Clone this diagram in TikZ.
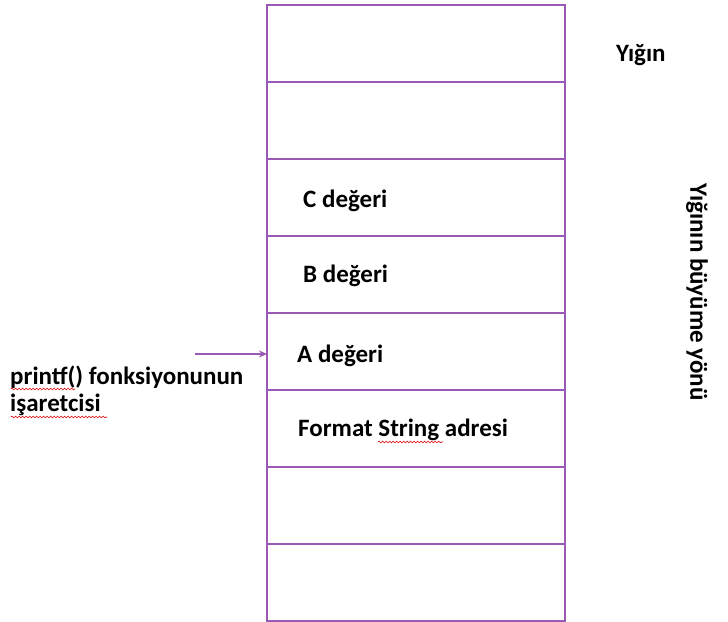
\documentclass[tikz,border=0pt]{standalone}
\usepackage{fontspec}
\setmainfont{Carlito}
\usetikzlibrary{arrows.meta,decorations.pathmorphing}
\definecolor{yigin}{RGB}{155,89,182}
\tikzset{
  hucre/.style={draw=yigin,line width=1.2pt,minimum width=298pt,minimum height=77pt,inner sep=0pt,outer sep=0pt},
  etiket/.style={font=\bfseries\fontsize{25}{30}\selectfont,inner sep=0pt,anchor=base west},
  imla/.style={draw=red!85!black,line width=0.6pt,decorate,decoration={snake,amplitude=0.9pt,segment length=3.5pt}}
}
\begin{document}
\begin{tikzpicture}[x=1pt,y=-1pt]
\useasboundingbox (0,0) rectangle (728,621);
% yigin hucreleri, ustten alta
\foreach \i in {0,...,7}
  \node[hucre,anchor=north west] (h\i) at (267,5+77*\i) {};
\node[hucre,anchor=north west,minimum height=616pt,line width=1.8pt] (cerceve) at (267,5) {};

\node[etiket] (c) at (303,207) {C değeri};
\node[etiket] (b) at (303,282) {B değeri};
\node[etiket] (a) at (297,362) {A değeri};
\node[etiket] (fmt) at (298,436) {Format String adresi};

\node[etiket] (yigin) at (616,61) {Yığın};
\node[etiket,anchor=center,rotate=-90] (yon) at (697,292) {Yığının büyüme yönü};

\node[etiket] (p1) at (10,384) {printf() fonksiyonunun};
\node[etiket] (p2) at (10,411) {işaretcisi};
\coordinate (ok) at (195,354);
\draw[yigin,line width=1.3pt,-{Stealth[length=8pt,width=7pt]}] (ok) -- (h4.west |- ok);

% imla cizgileri
\draw[imla] (p1.base west) ++(1,5) -- ++(64,0);
\draw[imla] (p2.base west) ++(1,6) -- ++(96,0);
\draw[imla] (fmt.base west) ++(80,6) -- ++(65,0);
\end{tikzpicture}
\end{document}
